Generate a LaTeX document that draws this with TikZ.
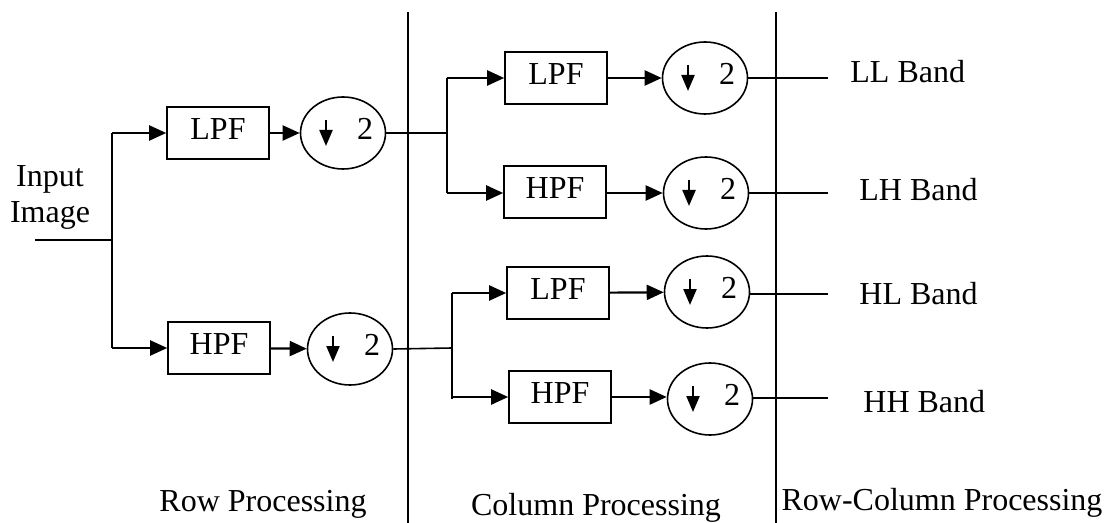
\documentclass[tikz,border=0pt]{standalone}
\usepackage{fontspec}
\setmainfont{Liberation Serif}
\usetikzlibrary{arrows.meta,shapes.geometric}
\begin{document}
\begin{tikzpicture}[x=0.5pt,y=-0.5pt,
  every node/.style={font=\fontsize{16}{18}\selectfont},
  filt/.style={draw, line width=0.8pt, minimum width=51pt, minimum height=26pt,
    inner sep=0pt, text depth=4pt},
  dec/.style={draw, ellipse, line width=0.8pt, minimum width=42.5pt,
    minimum height=36pt, inner sep=0pt},
  factor/.style={inner sep=0pt, text depth=4pt},
  wire/.style={line width=0.8pt},
  feed/.style={line width=1.1pt, -{Triangle[length=8.5pt,width=7.5pt]}},
  dnarrow/.style={line width=1.1pt, -{Triangle[length=8pt,width=6.5pt]}},
  lbl/.style={inner sep=0pt, anchor=base}]

\useasboundingbox (0,0) rectangle (1111,523);

% stage separators
\coordinate (s1t) at (408,12);  \coordinate (s1b) at (408,523);
\coordinate (s2t) at (776,12);  \coordinate (s2b) at (776,523);
\draw[wire] (s1t) -- (s1b);
\draw[wire] (s2t) -- (s2b);

% input
\node[align=center, inner sep=0pt] (in) at (50,197) {Input\\Image};
\coordinate (src) at (35,240);
\coordinate (b0) at (112,240);

% row processing
\node[filt] (lpf1) at (218,133) {LPF};
\node[filt] (hpf1) at (219,348) {HPF};
\node[dec] (d1) at (343,133) {};
\node[dec] (d2) at (350,349) {};

% column processing
\node[filt] (lpf2) at (556,78)  {LPF};
\node[filt] (hpf2) at (555,192) {HPF};
\node[filt] (lpf3) at (558,293) {LPF};
\node[filt] (hpf3) at (560,397) {HPF};
\node[dec] (d3) at (705,78)  {};
\node[dec] (d4) at (706,193) {};
\node[dec] (d5) at (707,292) {};
\node[dec] (d6) at (710,399) {};

% down-sampling marks
\foreach \d in {d1,d2,d3,d4,d5,d6}{
  \draw[dnarrow] ([shift={(-8.5pt,6.5pt)}]\d.center) -- ++(0,-13pt);
  \node[factor] (\d-n) at ([xshift=11pt]\d.center) {2};
}

% branch points
\coordinate (b1) at (447,133);
\coordinate (b2) at (452,348);

% input fan-out
\draw[wire] (src) -- (b0);
\draw[wire] (b0 |- lpf1) -- (b0 |- hpf1);
\draw[feed] (b0 |- lpf1) -- (lpf1.west);
\draw[feed] (b0 |- hpf1) -- (hpf1.west);
\draw[feed] (lpf1) -- (d1);
\draw[feed] (hpf1) -- (d2);

% column fan-out (upper)
\draw[wire] (d1.east) -- (b1);
\draw[wire] (b1 |- lpf2) -- (b1 |- d4);
\draw[feed] (b1 |- lpf2) -- (lpf2.west);
\draw[feed] (b1 |- d4) -- (hpf2.west |- d4);
\draw[feed] (lpf2) -- (d3);
\draw[feed] (hpf2.east |- d4) -- (d4.west);

% column fan-out (lower)
\draw[wire] (d2.east) -- (b2);
\draw[wire] (b2 |- lpf3) -- (b2 |- d6);
\draw[feed] (b2 |- lpf3) -- (lpf3.west);
\draw[feed] (b2 |- hpf3) -- (hpf3.west);
\draw[feed] (lpf3) -- (d5);
\draw[feed] (hpf3.east) -- (d6.west |- hpf3);

% sub-band outputs
\coordinate (o3) at (828,78);
\coordinate (o4) at (828,193);
\coordinate (o5) at (828,294);
\coordinate (o6) at (828,398);
\draw[wire] (d3.east) -- (o3);
\draw[wire] (d4.east) -- (o4);
\draw[wire] (d5.east |- o5) -- (o5);
\draw[wire] (d6.east |- o6) -- (o6);

\node[lbl, anchor=base west] (ll) at (850,83)  {LL Band};
\node[lbl, anchor=base west] (lh) at (859,201) {LH Band};
\node[lbl, anchor=base west] (hl) at (859,304) {HL Band};
\node[lbl, anchor=base west] (hh) at (863,412) {HH Band};

% stage captions
\node[lbl] (rowp) at (263,511) {Row Processing};
\node[lbl] (colp) at (596,515) {Column Processing};
\node[lbl] (rcp)  at (942,510) {Row-Column Processing};
\end{tikzpicture}
\end{document}
